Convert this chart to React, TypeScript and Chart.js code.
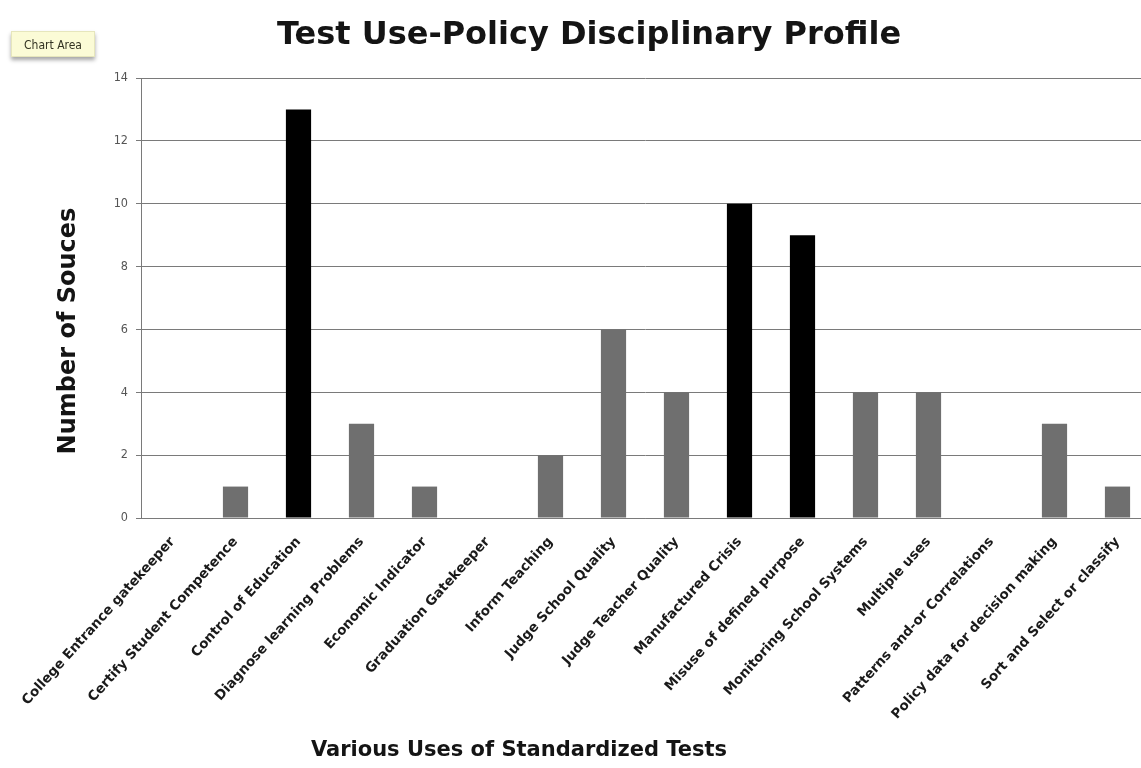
import React, { useEffect, useRef } from "react";
import { Chart, registerables } from "chart.js";

Chart.register(...registerables);

const categories = [
  "College Entrance gatekeeper",
  "Certify Student Competence",
  "Control of Education",
  "Diagnose learning Problems",
  "Economic Indicator",
  "Graduation Gatekeeper",
  "Inform Teaching",
  "Judge School Quality",
  "Judge Teacher Quality",
  "Manufactured Crisis",
  "Misuse of defined purpose",
  "Monitoring School Systems",
  "Multiple uses",
  "Patterns and-or Correlations",
  "Policy data for decision making",
  "Sort and Select or classify",
];

const sourceCounts = [0, 1, 13, 3, 1, 0, 2, 6, 4, 10, 9, 4, 4, 0, 3, 1];

const highlighted = ["Control of Education", "Manufactured Crisis", "Misuse of defined purpose"];

const yTicks = [0, 2, 4, 6, 8, 10, 12, 14];

const TITLE = "Test Use-Policy Disciplinary Profile";
const X_TITLE = "Various Uses of Standardized Tests";
const Y_TITLE = "Number of Souces";

const FAMILY = '"DejaVu Sans", "Liberation Sans", sans-serif';
const COND = '"DejaVu Sans Condensed", "DejaVu Sans", sans-serif';

const textPlugin = {
  id: "customTexts",
  afterDraw(chart: any) {
    const ctx = chart.ctx;
    ctx.save();
    ctx.fillStyle = "#141414";
    ctx.textAlign = "center";
    ctx.textBaseline = "middle";
    ctx.font = `bold 32px ${FAMILY}`;
    ctx.fillText(TITLE, 589, 36);
    ctx.font = `bold 21px ${FAMILY}`;
    ctx.fillText(X_TITLE, 519, 751);
    ctx.translate(69, 331);
    ctx.rotate(-Math.PI / 2);
    ctx.font = `bold 24px ${FAMILY}`;
    ctx.fillText(Y_TITLE, 0, 0);
    ctx.restore();
  },
};

export default function App() {
  const ref = useRef<HTMLCanvasElement | null>(null);

  useEffect(() => {
    if (!ref.current) return;
    const colors = categories.map((c) => (highlighted.includes(c) ? "#000000" : "#6f6f6f"));
    const chart = new Chart(ref.current, {
      type: "bar",
      data: {
        labels: categories,
        datasets: [
          {
            data: sourceCounts,
            backgroundColor: colors,
            borderWidth: 0,
            barPercentage: 0.4,
            categoryPercentage: 1,
          },
        ],
      },
      options: {
        animation: false,
        responsive: false,
        devicePixelRatio: 1,
        layout: { padding: { top: 78, right: 11, left: 0, bottom: 0 } },
        plugins: {
          legend: { display: false },
          tooltip: { enabled: false },
          title: { display: false },
        },
        scales: {
          x: {
            grid: { display: false, drawTicks: true, tickLength: 4 },
            border: { display: true, color: "#7a7a7a", width: 1 },
            ticks: {
              minRotation: 48,
              maxRotation: 48,
              autoSkip: false,
              padding: 12,
              color: "#1a1a1a",
              font: { family: FAMILY, size: 13.5, weight: "bold" },
            },
            afterFit(scale: any) {
              scale.height = 250;
            },
          },
          y: {
            min: 0,
            max: 14,
            afterBuildTicks(scale: any) {
              scale.ticks = yTicks.map((v) => ({ value: v }));
            },
            grid: { color: "#7a7a7a", lineWidth: 1, tickLength: 5 },
            border: { display: true, color: "#7a7a7a", width: 1 },
            ticks: {
              padding: 8,
              color: "#555555",
              font: { family: COND, size: 12.5 },
            },
            afterFit(scale: any) {
              scale.width = 141;
            },
          },
        },
      },
      plugins: [textPlugin],
    });
    return () => chart.destroy();
  }, []);

  return (
    <div
      style={{
        position: "absolute",
        left: 0,
        top: 0,
        width: 1141,
        height: 768,
        overflow: "hidden",
        background: "#ffffff",
      }}
    >
      <canvas ref={ref} width={1160} height={768} style={{ width: 1160, height: 768, display: "block" }} />
      <div
        style={{
          position: "absolute",
          left: 11,
          top: 31,
          width: 84,
          height: 26,
          lineHeight: "26px",
          textAlign: "center",
          background: "#fbfbd6",
          border: "1px solid #e6e6bc",
          boxShadow: "0 3px 4px rgba(0,0,0,0.35)",
          fontFamily: COND,
          fontSize: 12,
          color: "#333322",
          boxSizing: "border-box",
        }}
      >
        Chart Area
      </div>
    </div>
  );
}
